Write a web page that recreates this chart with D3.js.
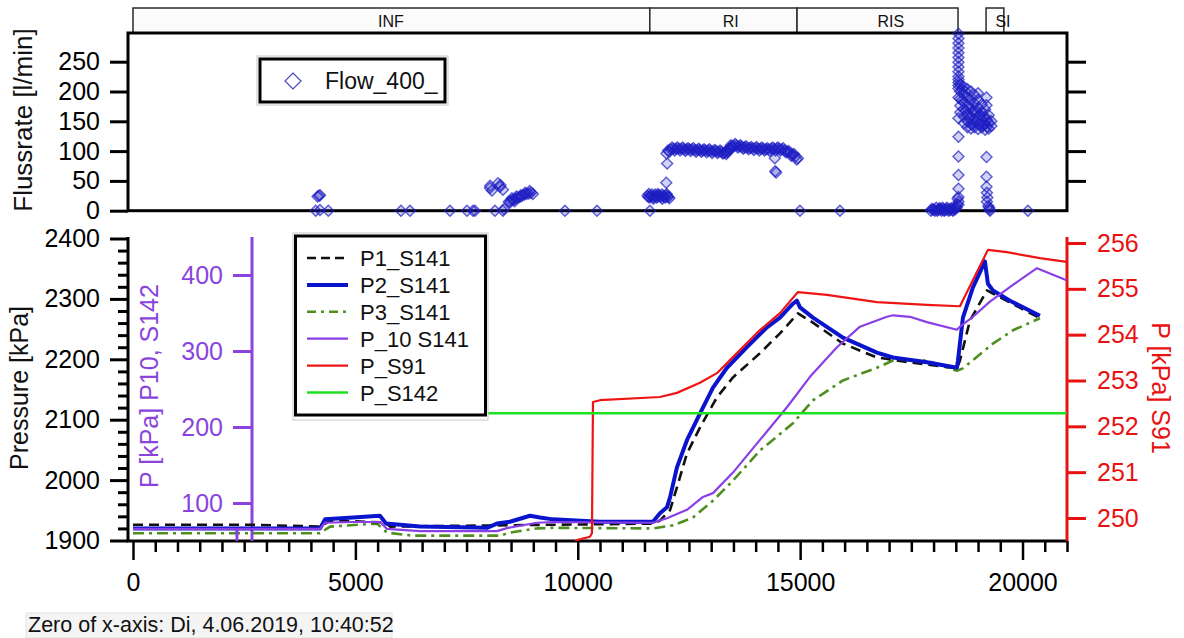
<!DOCTYPE html>
<html><head><meta charset="utf-8">
<script src="https://cdn.jsdelivr.net/npm/d3@7"></script>
<style>
body{margin:0;background:#fff}
svg{display:block}
text{font-family:"Liberation Sans",Arial,Helvetica,sans-serif}
</style>
</head><body>
<svg id="chart" width="1184" height="638"></svg>
<script>
// ---------------- DATA ----------------
const phaseNames   = ["INF", "RI", "RIS", "SI"];
const phaseStart   = [0, 11620, 14930, 19180];
const phaseEnd     = [11620, 14930, 18550, 19580];
const phaseLabelAt = [5800, 13440, 17040, 19560];

const timeTicks = [0, 5000, 10000, 15000, 20000];
const flowTicks = [0, 50, 100, 150, 200, 250];
const pressTicks = [1900, 2000, 2100, 2200, 2300, 2400];
const p10Ticks = [100, 200, 300, 400];
const s91Ticks = [250, 251, 252, 253, 254, 255, 256];

// Flow_400_ scatter (time s, l/min)
const flowPoints = [
  [4108,0],[4204,1],[4391,0],[4150,24],[4182,25],[4205,26],
  [6025,0],[6228,0],[7127,0],[7509,0],[7644,0],[7689,0],
  [8026,38],[8071,34],[8030,42],[8206,46],[8251,40],[8318,35],[8260,43],[8138,0],[8318,0],[8340,3],
  [8450,15],[8480,14],[8500,17],[8520,21],[8550,18],[8580,16],[8600,20],[8620,24],[8650,22],[8700,23],
  [8720,26],[8750,25],[8800,27],[8820,30],[8850,28],[8900,29],[8920,33],[8950,30],[8990,28],
  [9712,0],[10432,0],[11623,0],
  [11570,25],[11600,28],[11620,22],[11670,27],[11700,20],[11720,24],[11770,22],[11800,28],[11820,26],
  [11870,23],[11900,20],[11920,25],[11970,22],[12000,28],[12020,24],[12060,21],
  [11590,23],[11640,25],[11690,23],[11740,27],[11790,23],[11840,25],[11890,27],[11940,23],[11990,26],[12040,23],
  [11990,47],[12010,79],[11995,96],
  [12030,101],[12090,103],[12150,104],[12210,104],[12270,104],[12330,104],[12390,103],[12450,103],
  [12510,103],[12570,103],[12630,102],[12690,102],[12750,102],[12810,101],[12870,101],[12930,101],
  [12990,100],[13050,100],[13110,100],[13170,99],[13230,99],[13290,97],[13340,95],[13380,100],
  [13420,105],[13460,108],[13510,109],[13570,109],[13630,108],[13690,107],[13750,106],[13810,106],
  [13870,105],[13930,105],[13990,105],[14050,104],[14110,104],[14170,104],[14230,103],[14290,103],
  [14350,104],[14410,104],[14470,104],[14530,104],[14590,103],[14650,101],[14710,99],[14770,97],
  [14830,94],[14890,91],[14950,88],
  [12060,99],[12120,106],[12180,101],[12240,106],[12300,101],[12360,106],[12420,100],[12480,105],
  [12540,100],[12600,105],[12660,99],[12720,104],[12780,99],[12840,103],[12900,98],[12960,103],
  [13020,97],[13080,102],[13140,97],[13200,101],[13260,96],[13320,99],[13360,98],[13400,103],
  [13440,110],[13480,106],[13540,112],[13600,106],[13660,110],[13720,104],[13780,108],[13840,103],
  [13900,107],[13960,102],[14020,107],[14080,101],[14140,106],[14200,101],[14260,105],[14320,100],
  [14380,106],[14440,101],[14500,106],[14560,101],[14620,105],[14680,98],[14740,100],[14800,92],
  [14860,95],[14920,86],
  [14430,88],[14440,66],[14460,64],
  [14996,0],[15895,0],
  [17940,0],[17986,2],[18030,0],[18060,5],[18100,1],[18140,4],[18180,0],[18220,3],[18260,1],[18300,5],
  [18340,0],[18380,3],[18420,1],[18460,4],[18500,6],[18530,10],[18560,15],[18540,20],
  [17960,3],[18010,2],[18080,0],[18120,3],[18160,2],[18200,5],[18240,0],[18280,2],[18320,3],[18360,1],
  [18400,4],[18440,0],[18480,2],[18520,5],
  [18560,297],[18560,289],[18560,281],[18560,273],[18560,265],[18560,257],[18560,249],[18560,241],
  [18560,233],[18560,225],[18560,220],[18560,215],[18560,210],[18560,205],
  [18560,190],[18560,155],[18560,124],[18560,91],[18560,60],[18560,37],[18560,23],[18560,10],
  [18600,212],[18600,200],[18600,188],[18600,176],[18600,165],
  [18680,208],[18680,195],[18680,182],[18680,170],[18680,158],[18680,147],
  [18760,204],[18760,190],[18760,176],[18760,162],[18760,150],[18760,140],
  [18840,200],[18840,186],[18840,172],[18840,158],[18840,146],[18840,138],
  [18920,194],[18920,180],[18920,166],[18920,152],[18920,140],
  [19000,197],[19000,186],[19000,172],[19000,158],[19000,146],[19000,137],
  [19080,178],[19080,165],[19080,152],[19080,140],
  [19160,170],[19160,158],[19160,146],[19160,136],
  [19240,160],[19240,148],[19240,138],[19300,150],[19300,142],
  [18640,204],[18720,200],[18800,180],[18880,166],[18960,150],[19040,145],[19120,143],[19200,141],
  [18640,185],[18720,168],[18800,155],[18880,145],[18960,166],[19040,160],[19120,157],[19200,152],
  [19190,190],[19190,177],[19190,90],[19190,57],[19190,40],[19200,30],[19210,22],[19200,15],
  [19230,8],[19250,5],[19260,2],[19270,0],
  [20121,0]
];

// Pressure series (time s)
const p1Time  = [0,2700,4204,4429,5665,5778,11691,11848,12073,12230,12455,12747,13130,13489,14096,14546,14951,15221,15962,16727,17468,18525,18593,18817,19200,19335,20391];
const p1Value = [1926,1926,1923,1933,1930,1923,1928,1933,1950,1988,2044,2087,2137,2170,2210,2243,2276,2264,2226,2203,2195,2185,2198,2264,2314,2309,2268];

const p2Time  = [0,4204,4317,4946,5553,5688,6452,7959,8183,8476,8925,9150,9442,10499,11691,11848,12005,12073,12230,12455,12747,13040,13354,13804,14254,14546,14838,14928,14996,15288,15962,16727,17086,17851,18525,18548,18660,18885,19155,19222,19335,19717,20391];
const p2Value = [1920,1920,1935,1938,1941,1928,1923,1921,1928,1931,1941,1938,1935,1931,1931,1945,1955,1971,2021,2066,2110,2153,2186,2220,2253,2269,2292,2297,2286,2269,2236,2211,2203,2195,2186,2198,2269,2319,2362,2325,2314,2297,2272];

const p3Time  = [0,4204,4429,5486,5710,6295,8251,8476,9083,9442,11691,12140,12590,13040,13489,14096,14838,15288,15962,16727,17086,17851,18525,18660,19335,19784,20391];
const p3Value = [1912,1912,1923,1928,1913,1908,1908,1913,1920,1921,1920,1925,1938,1966,1999,2049,2094,2132,2165,2186,2198,2198,2181,2185,2226,2248,2268];

const p10Time  = [0,2320,2338,2352,4204,4317,4946,5553,5710,6452,8183,8408,9083,9442,11691,12005,12455,12815,13040,13489,14096,14703,15221,15827,16344,16951,17086,17468,17851,18525,18593,18885,19267,19784,20324,20990];
const p10Value = [66,66,45,66,66,74,75,75,66,63,63,67,74,75,74,80,91,108,113,140,183,226,266,305,332,345,347,345,338,328,332,345,365,387,409,393];

const s91Time  = [9850,9982,10274,10319,10342,10499,11848,12230,12747,13130,13489,14096,14546,14951,15603,16727,17851,18593,19222,19649,20391,20990];
const s91Value = [249.4,249.52,249.59,249.67,252.53,252.57,252.64,252.73,252.95,253.16,253.51,254.10,254.47,254.93,254.87,254.71,254.65,254.62,255.85,255.80,255.67,255.59];

const s142Time  = [7000, 20990];
const s142Value = [218, 218];

// ---------------- STYLE / LAYOUT ----------------
(function draw() {
const C = {
  blue: "#0a14cc", black: "#111", olive: "#4f8f1f", purple: "#8a3fe6",
  red: "#ee1515", lime: "#1ee01e", axisPurple: "#8a44dd", axisRed: "#e81212",
  flow: "#1e1ec4"
};
const svg = d3.select("#chart");
const x = d3.scaleLinear().domain([0, 21000]).range([133, 1067]);
const yFlow = d3.scaleLinear().domain([0, 250]).range([210.7, 61.7]);
const yP = d3.scaleLinear().domain([1900, 2400]).range([540.5, 238.5]);
const yP10 = d3.scaleLinear().domain([100, 400]).range([503, 275]);
const yS91 = d3.scaleLinear().domain([250, 256]).range([518, 243]);
const fmt = d3.format("d");
const FS = 25;

function styleAxis(g, color, width) {
  g.select(".domain").remove();
  g.selectAll(".tick line").attr("stroke", color).attr("stroke-width", width);
  g.selectAll(".tick text").attr("fill", color).attr("font-size", FS)
    .attr("font-family", '"Liberation Sans",Arial,sans-serif');
}

// ---- phase band ----
const band = svg.append("g");
phaseNames.forEach((n, i) => {
  band.append("rect").attr("x", x(phaseStart[i])).attr("y", 8)
    .attr("width", x(phaseEnd[i]) - x(phaseStart[i])).attr("height", 25)
    .attr("fill", "#fbfbfb").attr("stroke", "#2a2a2a").attr("stroke-width", 1.5);
  band.append("text").attr("x", x(phaseLabelAt[i])).attr("y", 27)
    .attr("text-anchor", "middle").attr("font-size", 16).attr("fill", "#111").text(n);
});

// ---- top chart ----
const topG = svg.append("g");
topG.append("rect").attr("x", 128).attr("y", 33).attr("width", 1067 - 128).attr("height", 210.7 - 33)
  .attr("fill", "none").attr("stroke", "#000").attr("stroke-width", 3);
topG.append("g").attr("transform", "translate(128,0)")
  .call(d3.axisLeft(yFlow).tickValues(flowTicks).tickSize(18).tickPadding(10).tickFormat(fmt))
  .call(g => styleAxis(g, "#000", 3));
topG.append("g").attr("transform", "translate(1067,0)")
  .call(d3.axisRight(yFlow).tickValues(flowTicks.slice(1)).tickSize(19).tickFormat(""))
  .call(g => styleAxis(g, "#000", 3));
topG.append("text").attr("transform", "translate(32,120) rotate(-90)")
  .attr("text-anchor", "middle").attr("font-size", 26).attr("fill", "#111").text("Flussrate [l/min]");

const diamond = r => `M0,${-r}L${r},0L0,${r}L${-r},0Z`;
topG.append("g").selectAll("path").data(flowPoints).join("path")
  .attr("d", diamond(5.5))
  .attr("transform", d => `translate(${x(d[0])},${yFlow(d[1])})`)
  .attr("fill", C.flow).attr("fill-opacity", 0.2)
  .attr("stroke", C.flow).attr("stroke-opacity", 0.7).attr("stroke-width", 1.4);

// top legend
topG.append("rect").attr("x", 257).attr("y", 56).attr("width", 191).attr("height", 49)
  .attr("fill", "#fff").attr("stroke", "#c8c8c8").attr("stroke-width", 1);
topG.append("rect").attr("x", 260).attr("y", 59).attr("width", 185).attr("height", 43)
  .attr("fill", "#fff").attr("stroke", "#000").attr("stroke-width", 3);
topG.append("path").attr("d", diamond(8)).attr("transform", "translate(293,81)")
  .attr("fill", "none").attr("stroke", "#4848c0").attr("stroke-width", 1.2);
topG.append("text").attr("x", 325).attr("y", 89).attr("font-size", 23).attr("fill", "#111").text("Flow_400_");

// ---- bottom chart ----
const bot = svg.append("g");
svg.append("defs").append("clipPath").attr("id", "clipB").append("rect")
  .attr("x", 128).attr("y", 236).attr("width", 1067 - 128).attr("height", 541 - 236);

bot.append("g").attr("transform", "translate(128,0)")
  .call(d3.axisLeft(yP).tickValues(d3.range(1900, 2401, 20).filter(v => v % 100 !== 0)).tickSize(10).tickFormat(""))
  .call(g => styleAxis(g, "#000", 3));
bot.append("g").attr("transform", "translate(128,0)")
  .call(d3.axisLeft(yP).tickValues(pressTicks).tickSize(18).tickPadding(10).tickFormat(fmt))
  .call(g => styleAxis(g, "#000", 3));
bot.append("line").attr("x1", 128).attr("x2", 128).attr("y1", 237).attr("y2", 541)
  .attr("stroke", "#000").attr("stroke-width", 3);
bot.append("text").attr("transform", "translate(28,388) rotate(-90)")
  .attr("text-anchor", "middle").attr("font-size", 25).attr("fill", "#111").text("Pressure [kPa]");

bot.append("g").attr("transform", "translate(0,541)")
  .call(d3.axisBottom(x).tickValues(d3.range(0, 21001, 500).filter(v => v % 5000 !== 0)).tickSize(11).tickFormat(""))
  .call(g => styleAxis(g, "#000", 2.5));
bot.append("g").attr("transform", "translate(0,541)")
  .call(d3.axisBottom(x).tickValues(timeTicks).tickSize(19).tickPadding(13).tickFormat(fmt))
  .call(g => styleAxis(g, "#000", 2.5));
bot.append("line").attr("x1", 126.5).attr("x2", 1067).attr("y1", 541).attr("y2", 541)
  .attr("stroke", "#000").attr("stroke-width", 3);

bot.append("g").attr("transform", "translate(252,0)")
  .call(d3.axisLeft(yP10).tickValues(p10Ticks).tickSize(19).tickPadding(10).tickFormat(fmt))
  .call(g => styleAxis(g, C.axisPurple, 3));
bot.append("line").attr("x1", 252).attr("x2", 252).attr("y1", 237).attr("y2", 541)
  .attr("stroke", C.axisPurple).attr("stroke-width", 3);
bot.append("text").attr("transform", "translate(158,386) rotate(-90)")
  .attr("text-anchor", "middle").attr("font-size", 25).attr("fill", C.axisPurple).text("P [kPa] P10, S142");

bot.append("g").attr("transform", "translate(1067,0)")
  .call(d3.axisRight(yS91).tickValues(s91Ticks).tickSize(19).tickPadding(11).tickFormat(fmt))
  .call(g => styleAxis(g, C.axisRed, 3));
bot.append("line").attr("x1", 1067).attr("x2", 1067).attr("y1", 237).attr("y2", 541)
  .attr("stroke", C.axisRed).attr("stroke-width", 3);
bot.append("text").attr("transform", "translate(1152,388) rotate(90)")
  .attr("text-anchor", "middle").attr("font-size", 25).attr("fill", C.axisRed).text("P [kPa] S91");

const series = [
  {name: "P3_S141", t: p3Time, v: p3Value, y: yP, color: C.olive, w: 2.6, dash: "11,5,3,5"},
  {name: "P1_S141", t: p1Time, v: p1Value, y: yP, color: C.black, w: 2.6, dash: "10,6"},
  {name: "P2_S141", t: p2Time, v: p2Value, y: yP, color: C.blue, w: 4, dash: null},
  {name: "P_10 S141", t: p10Time, v: p10Value, y: yP10, color: C.purple, w: 2.2, dash: null},
  {name: "P_S91", t: s91Time, v: s91Value, y: yS91, color: C.red, w: 2.2, dash: null},
  {name: "P_S142", t: s142Time, v: s142Value, y: yP10, color: C.lime, w: 2.6, dash: null}
];
const lines = bot.append("g").attr("clip-path", "url(#clipB)");
series.forEach(s => {
  const pts = d3.zip(s.t, s.v);
  lines.append("path").datum(pts)
    .attr("d", d3.line().x(d => x(d[0])).y(d => s.y(d[1])))
    .attr("fill", "none").attr("stroke", s.color).attr("stroke-width", s.w)
    .attr("stroke-linejoin", "round")
    .attr("stroke-dasharray", s.dash);
});

const leg = bot.append("g");
leg.append("rect").attr("x", 293).attr("y", 233).attr("width", 195).attr("height", 187)
  .attr("fill", "#fff").attr("stroke", "#c8c8c8").attr("stroke-width", 1);
leg.append("rect").attr("x", 295.5).attr("y", 236).attr("width", 190).attr("height", 179)
  .attr("fill", "#fff").attr("stroke", "#000").attr("stroke-width", 3);
const legOrder = ["P1_S141", "P2_S141", "P3_S141", "P_10 S141", "P_S91", "P_S142"];
legOrder.forEach((n, i) => {
  const s = series.find(d => d.name === n);
  const cy = 258 + i * 26.9;
  leg.append("line").attr("x1", 307).attr("x2", 348).attr("y1", cy).attr("y2", cy)
    .attr("stroke", s.color).attr("stroke-width", s.w)
    .attr("stroke-dasharray", s.dash ? (n === "P1_S141" ? "9,5" : "9,5,3,5") : null);
  leg.append("text").attr("x", 360).attr("y", cy + 8).attr("font-size", 22).attr("fill", "#111").text(n);
});

svg.append("rect").attr("x", 26).attr("y", 613).attr("width", 366).attr("height", 25)
  .attr("fill", "#f4f4f4").attr("stroke", "#e2e2e2");
svg.append("text").attr("x", 28).attr("y", 632).attr("font-size", 21.5).attr("fill", "#111")
  .text("Zero of x-axis: Di, 4.06.2019, 10:40:52");
})();
</script>
</body></html>
